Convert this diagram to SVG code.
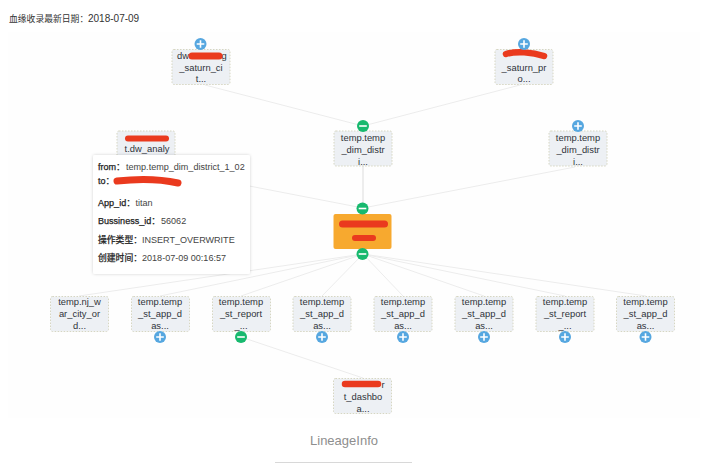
<svg xmlns="http://www.w3.org/2000/svg" width="705" height="464" viewBox="0 0 705 464">
<style>
text{font-family:"Liberation Sans","Noto Sans CJK SC",sans-serif;fill:#333}
.n{fill:#edf0f4;stroke:#d6d6c2;stroke-width:1;stroke-dasharray:1.5 1.5}
.t text{font-size:9.4px;text-anchor:middle;fill:#2f333a}
.red{fill:none;stroke:#ea3a1e;stroke-linecap:round;stroke-linejoin:round}
.c{fill:none;stroke:#ececec;stroke-width:1}
.plus{fill:#56a7e0}
.minus{fill:#17b96e}
.g{stroke:#fff;stroke-width:1.6;fill:none}
.tip text{font-size:9.05px;fill:#444}
.tip .b{fill:#222;stroke:#222;stroke-width:.25}
.tip .z{font-size:8.8px}
</style>
<defs>
<g id="p"><circle r="6" class="plus"/><path class="g" d="M-3.800 0H3.800M0-3.800V3.800"/></g>
<g id="m"><circle r="6" class="minus"/><path class="g" d="M-3.800 0H3.800"/></g>
<filter id="sh" x="-5%" y="-5%" width="110%" height="110%"><feDropShadow dx="0" dy="0" stdDeviation="1.5" flood-color="#000" flood-opacity=".18"/></filter>
</defs>
<rect width="705" height="464" fill="#fff"/>
<rect x="8" y="32" width="692" height="386" fill="#fefefe"/>
<text x="9" y="22" font-size="8.800">血缘收录最新日期：<tspan x="88" font-size="10">2018-07-09</tspan></text>
<g id="connectors" class="c">
<path d="M205 85L363 126"/>
<path d="M520 85L363 126"/>
<path d="M363 166V208" stroke="#dcdcdc"/>
<path d="M146 166L363 208"/>
<path d="M575 167L363 208"/>
<path d="M79 296L363 254"/>
<path d="M160 296L363 254"/>
<path d="M241 296L363 254"/>
<path d="M322 296L363 254"/>
<path d="M403 296L363 254"/>
<path d="M484 296L363 254"/>
<path d="M565 296L363 254"/>
<path d="M646 296L363 254"/>
<path d="M241 337L363 378"/>
</g>
<g id="node-top-left" class="t"><rect class="n" x="172" y="49.500" width="58" height="35" rx="2"/><text x="183" y="58.500">dw</text><text x="224" y="58.500">g</text><text x="201" y="70.500">_saturn_ci</text><text x="201" y="82">t...</text><path class="red" stroke-width="7" d="M192 56H219"/><use href="#p" x="200.500" y="44"/></g>
<g id="node-top-right" class="t"><rect class="n" x="495" y="49.500" width="58" height="35" rx="2"/><text x="524" y="70.500">_saturn_pr</text><text x="524" y="82">o...</text><path class="red" stroke-width="6.500" d="M506 54C516 51 532 52 544 56"/><use href="#p" x="524" y="44"/></g>
<g id="node-left" class="t"><rect class="n" x="117" y="131" width="58" height="35" rx="2"/><text x="147" y="152">t.dw_analy</text><path class="red" stroke-width="6" d="M128 138.500H166"/></g>
<g id="node-mid" class="t"><rect class="n" x="334" y="131" width="58" height="35" rx="2"/><text x="363" y="141">temp.temp</text><text x="363" y="153">_dim_distr</text><text x="363" y="165">i...</text><use href="#m" x="363" y="126"/></g>
<g id="node-mid-right" class="t"><rect class="n" x="549" y="131" width="58" height="35" rx="2"/><text x="578" y="141">temp.temp</text><text x="578" y="153">_dim_distr</text><text x="578" y="165">i...</text><use href="#p" x="578" y="126"/></g>
<g id="node-center" class="t"><rect x="333.500" y="214" width="58" height="35" rx="2" fill="#f7a92f"/><path class="red" stroke-width="7" d="M342.500 224H384.500"/><path class="red" stroke-width="6" d="M355 238H373"/><use href="#m" x="362.500" y="208.500"/><use href="#m" x="362.500" y="254"/></g>
<g id="node-b1" class="t"><rect class="n" x="50.500" y="296.500" width="58" height="35" rx="2"/><text x="79.500" y="305">temp.nj_w</text><text x="79.500" y="317">ar_city_or</text><text x="79.500" y="329">d...</text></g>
<g id="node-b2" class="t"><rect class="n" x="131.500" y="296.500" width="58" height="35" rx="2"/><text x="160" y="305">temp.temp</text><text x="160" y="317">_st_app_d</text><text x="160" y="329">as...</text><use href="#p" x="160" y="337"/></g>
<g id="node-b3" class="t"><rect class="n" x="212.500" y="296.500" width="58" height="35" rx="2"/><text x="241" y="305">temp.temp</text><text x="241" y="317">_st_report</text><text x="241" y="329">_...</text><use href="#m" x="241" y="337"/></g>
<g id="node-b4" class="t"><rect class="n" x="293" y="296.500" width="58" height="35" rx="2"/><text x="322" y="305">temp.temp</text><text x="322" y="317">_st_app_d</text><text x="322" y="329">as...</text><use href="#p" x="322" y="337"/></g>
<g id="node-b5" class="t"><rect class="n" x="374" y="296.500" width="58" height="35" rx="2"/><text x="403" y="305">temp.temp</text><text x="403" y="317">_st_app_d</text><text x="403" y="329">as...</text><use href="#p" x="403" y="337"/></g>
<g id="node-b6" class="t"><rect class="n" x="455" y="296.500" width="58" height="35" rx="2"/><text x="484" y="305">temp.temp</text><text x="484" y="317">_st_app_d</text><text x="484" y="329">as...</text><use href="#p" x="484" y="337"/></g>
<g id="node-b7" class="t"><rect class="n" x="536" y="296.500" width="58" height="35" rx="2"/><text x="565" y="305">temp.temp</text><text x="565" y="317">_st_report</text><text x="565" y="329">_...</text><use href="#p" x="565" y="337"/></g>
<g id="node-b8" class="t"><rect class="n" x="616.500" y="296.500" width="58" height="35" rx="2"/><text x="645.500" y="305">temp.temp</text><text x="645.500" y="317">_st_app_d</text><text x="645.500" y="329">as...</text><use href="#p" x="645.500" y="337"/></g>
<g id="node-bottom" class="t"><rect class="n" x="333.500" y="378.500" width="58" height="35" rx="2"/><text x="363" y="400">t_dashbo</text><text x="363" y="412">a...</text><text x="383" y="388">r</text><path class="red" stroke-width="6.500" d="M345 384H378"/></g>
<g id="tooltip" class="tip">
<rect x="93" y="155" width="157" height="119" rx="2" fill="#fff" filter="url(#sh)"/>
<text x="98" y="170"><tspan class="b">from：</tspan><tspan x="126">temp.temp_dim_district_1_02</tspan></text>
<text x="98" y="184" class="b">to：</text>
<path class="red" stroke-width="7" d="M117 181C135 179 160 179 178 183"/>
<text x="98" y="206"><tspan class="b">App_id：</tspan><tspan x="135.500">titan</tspan></text>
<text x="98" y="224"><tspan class="b">Bussiness_id：</tspan><tspan x="161">56062</tspan></text>
<text x="98" y="243"><tspan class="b z">操作类型：</tspan><tspan x="142">INSERT_OVERWRITE</tspan></text>
<text x="98" y="261"><tspan class="b z">创建时间：</tspan><tspan x="142">2018-07-09 00:16:57</tspan></text>
</g>
<text x="344" y="445" font-size="13" text-anchor="middle" style="fill:#8e8e8e">LineageInfo</text>
<path d="M275 462.500H412" stroke="#d8d8d8" fill="none"/>
</svg>
